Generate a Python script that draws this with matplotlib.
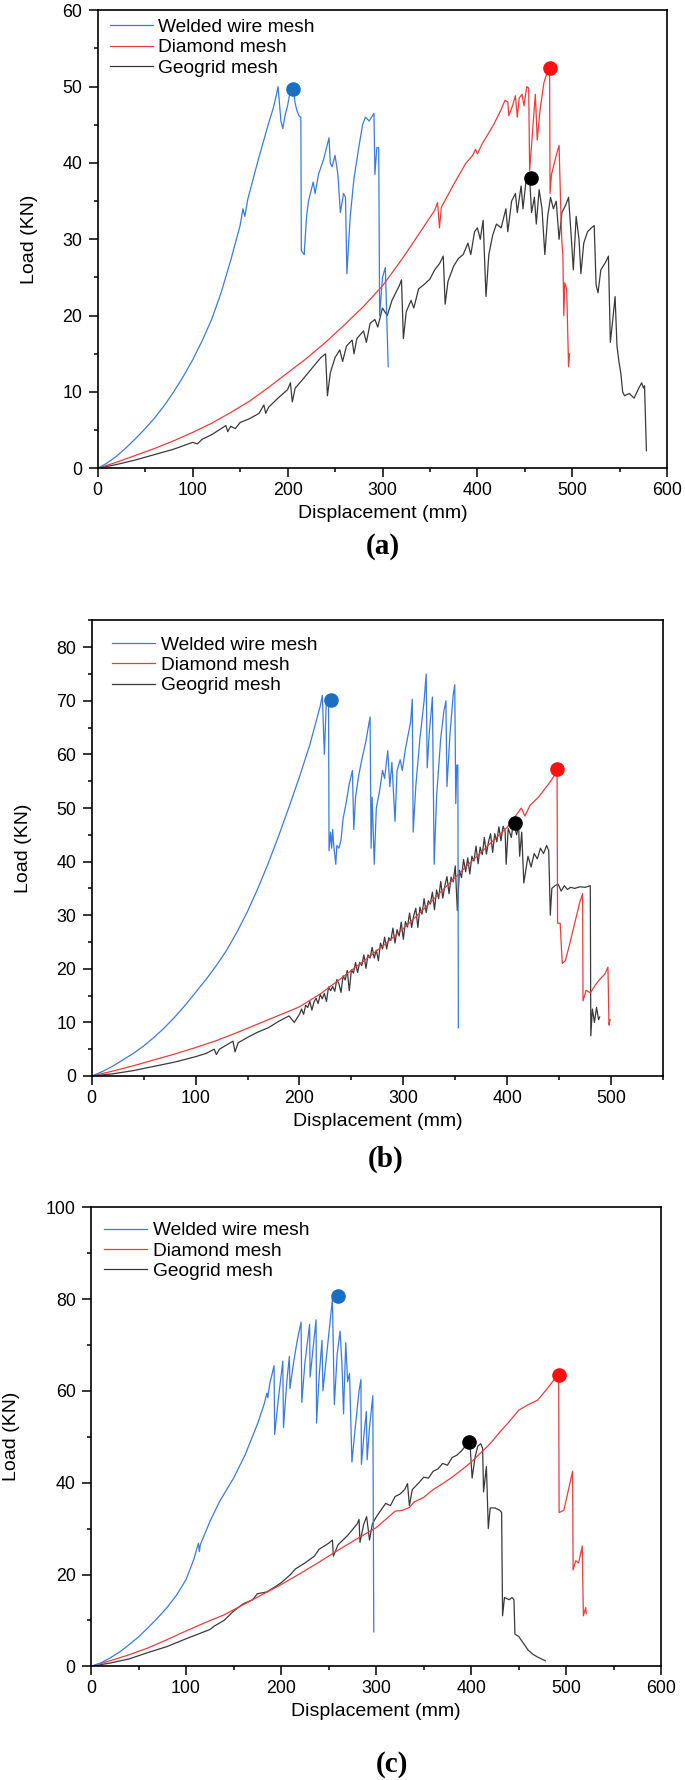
import matplotlib
matplotlib.use("Agg")
import matplotlib.pyplot as plt
from matplotlib.ticker import MultipleLocator

plt.rcParams['font.family'] = ['Liberation Sans', 'DejaVu Sans']

# ---------------- Panel (a) ----------------
a_weld_x = [0, 10, 20, 30, 40, 50, 60, 70, 80, 90, 100, 110, 120, 130, 140, 150, 153, 155, 158, 165, 170, 175, 180, 185, 188, 190, 193, 195, 197, 200, 203, 206, 208, 210, 212, 214, 214.5, 217.5, 220, 222, 227, 229, 232.6, 238, 243.7, 245, 247, 250, 253, 255.6, 259, 261, 262.5, 266, 270, 275, 279, 282, 286, 291, 292, 294, 296, 297, 300, 303, 306]
a_weld_y = [0, 0.7, 1.6, 2.7, 3.9, 5.2, 6.6, 8.2, 10.0, 12.0, 14.2, 16.7, 19.5, 23.0, 27.2, 31.8, 34.0, 33.0, 35.2, 38.5, 40.8, 43.0, 45.2, 47.2, 48.8, 50.0, 45.5, 44.5, 46.0, 47.5, 49.5, 49.8, 47.8, 46.8, 46.2, 46.0, 28.5, 28.0, 33.0, 35.0, 37.5, 36.0, 38.5, 40.5, 43.3, 40.0, 39.5, 41.0, 38.5, 33.5, 36.0, 35.5, 25.5, 33.0, 38.0, 42.0, 45.0, 46.0, 45.5, 46.5, 38.5, 42.0, 42.0, 20.0, 25.0, 26.3, 13.3]

a_diam_x = [0, 20, 40, 60, 80, 100, 120, 140, 160, 180, 200, 220, 240, 260, 280, 300, 320, 340, 355, 358, 360, 362, 375, 388, 395, 398, 400, 405, 417, 425, 429, 432, 433, 437, 440, 442, 444, 447, 449, 452, 454, 455, 458, 461, 463, 466, 470, 475, 476, 476.5, 478, 483, 486, 488, 489, 490, 491, 492, 494, 496, 497]
a_diam_y = [0, 0.8, 1.7, 2.6, 3.6, 4.7, 5.9, 7.3, 8.8, 10.6, 12.5, 14.4, 16.5, 18.8, 21.2, 23.9, 27.3, 31.0, 33.8, 34.8, 31.5, 34.2, 37.2, 40.0, 41.0, 41.8, 41.2, 42.5, 45.0, 47.0, 48.2, 48.0, 46.2, 47.5, 48.8, 46.0, 48.5, 49.0, 47.5, 50.0, 49.8, 39.0, 44.0, 49.0, 43.0, 47.0, 50.5, 52.5, 52.3, 36.0, 38.5, 41.0, 42.3, 33.0, 29.5, 28.0, 20.0, 24.3, 23.5, 13.3, 15.0]

a_geo_x = [0, 20, 40, 60, 80, 100, 105, 110, 120, 130, 135, 137, 140, 145, 150, 160, 170, 175, 177, 180, 190, 200, 203, 205, 208, 215, 225, 235, 240, 242, 245, 250, 255, 258, 262, 268, 270, 273, 280, 283, 287, 292, 295, 298, 300, 305, 310, 318, 320, 322, 325, 330, 333, 338, 345, 350, 355, 360, 364, 366, 369, 375, 380, 385, 390, 393, 397, 400, 403, 406, 409, 412, 416, 420, 425, 430, 432, 436, 440, 442, 446, 448, 451, 455, 457, 460, 462, 465, 468, 471, 474, 477, 480, 483, 486, 489, 493, 496, 499, 501, 504, 507, 509, 512, 516, 520, 523, 525, 527, 530, 535, 538, 540, 543, 545, 547, 549, 551, 553, 555, 560, 565, 570, 573, 575, 576, 578]
a_geo_y = [0, 0.5, 1.1, 1.8, 2.5, 3.4, 3.2, 3.8, 4.4, 5.2, 5.6, 4.8, 5.5, 5.2, 6.0, 6.5, 7.2, 8.3, 7.2, 8.0, 9.2, 10.3, 11.2, 8.7, 10.5, 11.5, 13.0, 14.5, 15.0, 9.5, 12.5, 14.5, 15.5, 14.0, 16.0, 16.8, 15.0, 17.0, 18.0, 16.5, 19.0, 19.5, 18.5, 20.0, 21.0, 20.0, 22.0, 24.0, 24.7, 17.0, 20.5, 22.0, 21.0, 23.5, 24.2, 24.8, 26.0, 26.8, 27.8, 21.5, 24.5, 26.5, 27.5, 28.0, 29.5, 28.0, 31.0, 31.5, 30.0, 32.5, 22.5, 28.0, 30.5, 32.0, 31.5, 34.0, 31.0, 35.0, 36.0, 33.5, 37.0, 34.0, 37.5, 38.0, 33.5, 35.5, 32.0, 36.5, 34.0, 28.0, 33.0, 35.5, 34.0, 35.0, 30.0, 33.5, 34.5, 35.5, 30.0, 26.0, 33.0, 30.0, 25.5, 29.5, 31.0, 31.5, 31.8, 24.0, 23.0, 26.0, 27.0, 27.8, 16.5, 20.0, 22.5, 16.0, 14.0, 12.5, 10.0, 9.5, 9.8, 9.2, 10.5, 11.2, 10.5, 10.8, 2.3]

a_peak_x = [206, 476, 456.5]
a_peak_y = [49.7, 52.5, 38.0]

# ---------------- Panel (b) ----------------
b_weld_x = [0, 10, 20, 30, 40, 50, 60, 70, 80, 90, 100, 110, 120, 130, 140, 150, 160, 170, 180, 190, 200, 210, 220, 222, 224, 226, 228, 228.5, 230, 231, 232, 233, 235, 236, 238, 240, 242, 245, 248, 251, 252.3, 254, 257, 260, 264, 268, 269, 270, 272, 274, 277, 280, 282, 285, 287, 289, 292, 294, 297, 299, 302, 305, 307, 308.6, 309.5, 312, 316, 320, 322, 323, 325, 328, 329.7, 332, 336, 339, 341, 342, 345, 348, 349.5, 350.5, 351.5, 352.5, 353]
b_weld_y = [0, 0.8, 1.8, 3.0, 4.2, 5.6, 7.2, 9.0, 11.0, 13.2, 15.6, 18.0, 20.6, 23.5, 26.9, 30.7, 35.0, 39.7, 44.8, 50.2, 55.8, 61.8, 69.0, 71.0, 60.0, 70.5, 70.3, 42.0, 45.5, 42.5, 46.0, 43.0, 39.5, 43.0, 42.5, 44.0, 48.0, 51.0, 54.5, 57.0, 46.0, 52.0, 56.0, 59.0, 62.5, 67.0, 42.5, 52.0, 39.5, 50.0, 53.0, 57.0, 55.5, 60.7, 54.0, 58.5, 47.5, 57.0, 59.0, 57.0, 61.0, 64.0, 66.0, 70.3, 45.5, 54.0, 63.0, 70.0, 75.0, 57.5, 64.0, 70.7, 39.5, 52.0, 63.0, 68.0, 70.0, 54.0, 64.0, 71.0, 73.0, 50.8, 58.0, 58.0, 9.0]

b_diam_x = [0, 20, 40, 60, 80, 100, 120, 140, 160, 180, 200, 220, 240, 260, 280, 300, 320, 340, 360, 380, 400, 408, 413.6, 417, 422, 430, 440, 447, 448, 448.5, 451, 453, 456, 460, 465, 470, 472.6, 473, 476, 480, 485, 489, 494, 497, 498, 499]
b_diam_y = [0, 0.9, 1.9, 3.0, 4.1, 5.3, 6.6, 8.1, 9.7, 11.3, 12.9, 15.3, 18.2, 21.2, 24.2, 27.5, 31.2, 35.1, 39.0, 42.7, 46.4, 48.5, 50.0, 48.5, 50.5, 52.0, 54.5, 56.5, 57.1, 28.5, 28.5, 21.0, 21.5, 24.5, 28.5, 32.5, 34.0, 14.0, 16.0, 15.5, 17.0, 18.0, 19.0, 20.3, 9.5, 10.5]

b_geo_x = [0, 20, 40, 60, 80, 100, 110, 118, 120, 123, 130, 136, 138, 141, 150, 160, 170, 180, 190, 195,
           200, 202, 204, 206, 208, 210, 212, 214, 216, 218, 220, 222, 224, 226, 228, 230, 232, 234, 236, 238,
           240, 242, 244, 246, 248, 250, 252, 254, 256, 258, 260, 262, 264, 266, 268, 270, 272, 274, 276, 278,
           280, 282, 284, 286, 288, 290, 292, 294, 296, 298, 300, 302, 304, 306, 308, 310, 312, 314, 316, 318,
           320, 322, 324, 326, 328, 330, 332, 334, 336, 338, 340, 342, 344, 346, 348, 350, 352, 354, 356, 358,
           360, 362, 364, 366, 368, 370, 372, 374, 376, 378, 380, 382, 384, 386, 388, 390, 392, 394, 396, 398,
           399, 401, 404, 406, 409, 411, 412, 414, 416, 418, 420, 423, 426, 429, 432, 435, 438, 440, 441.5, 443,
           446, 449, 452, 455, 458, 461, 465, 470, 475, 480, 480.5, 482, 484, 486, 488, 489]
b_geo_y = [0, 0.4, 1.0, 1.8, 2.6, 3.6, 4.2, 5.0, 4.0, 5.0, 5.8, 6.5, 4.5, 6.2, 7.2, 8.2, 9.0, 10.2, 11.2, 10.0,
           11.5, 12.5, 11.5, 13.2, 12.8, 13.9, 12.3, 13.8, 14.5, 13.5, 15.2, 14.4, 15.4, 13.9, 16.6, 15.9, 16.7, 15.8, 18.0, 17.2,
           15.6, 18.7, 17.9, 19.7, 15.9, 19.8, 19.2, 21.2, 19.3, 21.2, 20.6, 22.6, 20.1, 22.6, 22.0, 24.0, 22.0, 23.5, 21.5, 24.8,
           23.7, 25.9, 23.7, 25.8, 25.3, 27.6, 24.8, 27.3, 26.1, 28.7, 25.5, 28.8, 27.8, 30.4, 27.7, 29.9, 31.3, 27.7, 31.5, 30.2,
           33.1, 30.5, 32.7, 32.1, 34.3, 31.0, 34.7, 33.1, 36.3, 33.2, 35.5, 37.2, 34.0, 37.1, 36.2, 39.2, 30.9, 38.4, 37.0, 40.4,
           38.1, 40.7, 37.7, 41.0, 40.1, 42.9, 39.6, 42.7, 41.3, 44.5, 41.4, 43.7, 45.2, 41.7, 45.2, 43.7, 46.5, 43.9, 46.6, 45.7,
           39.5, 46.2, 44.5, 47.5, 45.0, 46.5, 41.0, 45.5, 36.0, 38.5, 41.0, 39.0, 41.5, 40.5, 42.5, 41.5, 43.0, 42.0, 30.0, 35.0,
           35.5, 35.8, 34.5, 35.5, 34.8, 35.2, 35.0, 35.3, 35.2, 35.5, 7.5, 12.5, 10.0, 12.8, 10.5, 11.0]

b_peak_x = [230, 448, 407.5]
b_peak_y = [70.2, 57.2, 47.2]

# ---------------- Panel (c) ----------------
c_weld_x = [0, 10, 20, 30, 40, 50, 60, 70, 80, 90, 100, 108, 113, 114, 115, 125, 135, 150, 162, 175, 182, 185, 186, 188, 192.6, 193.2, 197, 201.8, 202.5, 206, 208.7, 209.3, 213, 217, 221, 221.8, 225, 230, 230.5, 234, 236.8, 237.3, 240, 243, 244, 248, 252, 254, 256, 259, 262, 264, 265.7, 267, 268, 270, 272, 274.5, 278, 282, 284, 284.5, 287, 289.7, 290.5, 293, 296.5, 297.5]
c_weld_y = [0, 0.7, 1.8, 3.1, 4.7, 6.4, 8.4, 10.5, 12.8, 15.5, 18.9, 23.2, 26.8, 25.0, 26.5, 31.5, 35.8, 41.0, 46.0, 52.7, 57.0, 59.5, 58.5, 61.5, 65.5, 50.5, 58.0, 66.5, 52.0, 62.0, 67.5, 60.5, 66.0, 71.0, 75.0, 57.5, 66.0, 74.5, 63.0, 70.0, 75.5, 53.0, 63.0, 71.0, 60.0, 68.0, 76.0, 80.0, 57.0, 68.0, 73.0, 66.0, 55.0, 64.0, 70.5, 62.0, 63.8, 44.5, 52.0, 60.0, 62.5, 44.0, 50.0, 55.5, 45.0, 52.0, 59.0, 7.5]

c_diam_x = [0, 20, 40, 60, 80, 100, 120, 140, 160, 180, 200, 220, 240, 260, 280, 300, 310, 320, 328, 335, 340, 350, 360, 370, 380, 390, 400, 410, 420, 430, 440, 450, 460, 470, 480, 490, 492, 492.5, 497.5, 506.7, 507.2, 510, 513, 516.8, 518, 520.5, 521]
c_diam_y = [0, 1.2, 2.5, 4.0, 5.8, 7.7, 9.5, 11.2, 13.4, 15.6, 17.8, 20.2, 22.7, 25.3, 27.8, 30.2, 32.0, 33.8, 34.0, 34.6, 35.8, 36.8, 38.5, 39.8, 41.2, 42.8, 44.5, 46.5, 48.5, 51.0, 53.3, 55.8, 57.0, 58.0, 60.5, 63.2, 63.5, 33.5, 34.0, 42.5, 21.0, 23.0, 22.5, 26.2, 11.0, 12.8, 11.5]

c_geo_x = [0, 20, 40, 60, 80, 100, 115, 125, 130, 140, 150, 160, 170, 175, 185, 195, 200, 210, 215, 225, 235, 240, 250, 254, 255, 260, 270, 280, 282, 283, 287, 290, 293, 296, 300, 305, 310, 315, 320, 325, 330, 333, 335, 338, 345, 350, 355, 360, 365, 370, 375, 380, 385, 390, 396, 399, 401, 404, 407, 410, 412, 413, 416, 418, 420, 425, 430, 432, 433, 435, 440, 443, 445, 446, 450, 455, 460, 465, 470, 478]
c_geo_y = [0, 0.7, 1.6, 3.0, 4.3, 6.0, 7.2, 8.0, 8.8, 10.0, 12.0, 13.6, 14.5, 15.8, 16.2, 17.5, 18.2, 20.0, 21.2, 22.5, 24.0, 25.5, 26.8, 27.5, 24.0, 26.5, 28.5, 31.0, 32.0, 27.0, 31.0, 32.6, 27.5, 31.0, 32.5, 34.0, 35.5, 35.0, 37.0, 37.5, 38.5, 39.8, 35.0, 38.5, 40.0, 41.2, 41.0, 42.5, 43.0, 44.2, 43.8, 45.5, 46.0, 47.0, 48.5, 47.5, 41.0, 45.5, 48.0, 48.5, 47.5, 38.0, 43.5, 30.0, 34.5, 34.5, 34.0, 33.5, 11.0, 15.0, 14.5, 15.0, 14.5, 7.0, 6.5, 5.0, 3.5, 2.6, 2.0, 1.2]

c_peak_x = [259.8, 492, 397.7]
c_peak_y = [80.6, 63.5, 48.9]

series_names = ["Welded wire mesh", "Diamond mesh", "Geogrid mesh"]
panel_tags = ["(a)", "(b)", "(c)"]

line_colors = ["#3a7be0", "#ee3b3b", "#3a3a3a"]
marker_colors = ["#1a6fc2", "#ff1010", "#000000"]

fig = plt.figure(figsize=(6.85, 17.8), dpi=100)

W, H = 685.0, 1780.0
panels = [
    dict(box=(97.7, 10.3, 667.3, 468.3), xlim=(0, 600), ylim=(0, 60), ymaj=10, ymin=5, xmaj=100, xmin=50,
         data=[(a_weld_x, a_weld_y), (a_diam_x, a_diam_y), (a_geo_x, a_geo_y)], peaks=(a_peak_x, a_peak_y),
         leg=(12.3, 8.3), ylab_x=38.0, tag_xy=(383, 546)),
    dict(box=(91.7, 620.4, 663.0, 1076.0), xlim=(0, 550), ylim=(0, 85), ymaj=10, ymin=5, xmaj=100, xmin=50,
         data=[(b_weld_x, b_weld_y), (b_diam_x, b_diam_y), (b_geo_x, b_geo_y)], peaks=(b_peak_x, b_peak_y),
         leg=(20.6, 15.9), ylab_x=32.0, tag_xy=(386, 1159)),
    dict(box=(91.0, 1207.3, 661.3, 1666.3), xlim=(0, 600), ylim=(0, 100), ymaj=20, ymin=10, xmaj=100, xmin=50,
         data=[(c_weld_x, c_weld_y), (c_diam_x, c_diam_y), (c_geo_x, c_geo_y)], peaks=(c_peak_x, c_peak_y),
         leg=(13.3, 14.7), ylab_x=20.0, tag_xy=(392, 1765)),
]

for i, p in enumerate(panels):
    l, t, r, b = p["box"]
    ax = fig.add_axes([l / W, 1 - b / H, (r - l) / W, (b - t) / H])
    for k, (xs, ys) in enumerate(p["data"]):
        ax.plot(xs, ys, color=line_colors[k], lw=0.9, label=series_names[k], zorder=2 + (2 - k) * 0.1)
    px, py = p["peaks"]
    for k in range(3):
        ax.plot([px[k]], [py[k]], 'o', color=marker_colors[k], markersize=9.5, zorder=5)
    ax.set_xlim(*p["xlim"])
    ax.set_ylim(*p["ylim"])
    ax.xaxis.set_major_locator(MultipleLocator(p["xmaj"]))
    ax.xaxis.set_minor_locator(MultipleLocator(p["xmin"]))
    ax.yaxis.set_major_locator(MultipleLocator(p["ymaj"]))
    ax.yaxis.set_minor_locator(MultipleLocator(p["ymin"]))
    ax.tick_params(which='both', direction='out', top=False, right=False, width=1.1, labelsize=12.8)
    ax.tick_params(which='major', length=6.5)
    ax.tick_params(which='minor', length=3.2)
    ax.tick_params(axis='y', pad=4.5)
    ax.tick_params(axis='x', pad=3.5)
    for s in ax.spines.values():
        s.set_linewidth(1.2)
    ax.set_xlabel("Displacement (mm)", fontsize=14)
    ax.set_ylabel("Load (KN)", fontsize=14)
    ax.xaxis.set_label_coords(0.5, -37.0 / (b - t))
    ax.yaxis.set_label_coords((p["ylab_x"] - l) / (r - l), 0.5)
    lx, ly = p["leg"]
    ax.legend(loc='upper left', bbox_to_anchor=(lx / (r - l), 1 - ly / (b - t)), frameon=False,
              fontsize=13.8, borderpad=0, borderaxespad=0, handlelength=2.24, handletextpad=0.29,
              labelspacing=0.15)
    tx, ty = p["tag_xy"]
    fig.text(tx / W, 1 - ty / H, panel_tags[i], ha='center', va='center', fontsize=21,
             fontweight='bold', family=['Liberation Serif', 'DejaVu Serif'])

fig.savefig("out.png", dpi=100)
